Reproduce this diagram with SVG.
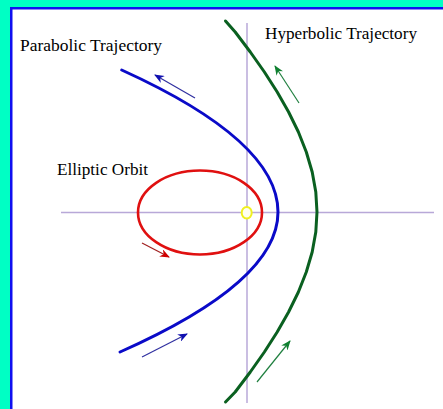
<svg xmlns="http://www.w3.org/2000/svg" width="443" height="409" viewBox="0 0 443 409">
<style>
.lbl{font-family:"Liberation Serif","Times New Roman",serif;font-size:16.5px;fill:#000}
.axis{stroke:#B8A8D8;stroke-width:1.5;fill:none}
.traj{fill:none;stroke-width:3;stroke-linejoin:round;stroke-linecap:round}
.arr{fill:none;stroke-width:1.2}
</style>
<defs>
<marker id="hb" markerWidth="10" markerHeight="8" refX="9" refY="4" orient="auto" markerUnits="userSpaceOnUse"><path d="M0,0 L10,4 L0,8 L3,4 Z" fill="#1010B0"/></marker>
<marker id="hg" markerWidth="10" markerHeight="8" refX="9" refY="4" orient="auto" markerUnits="userSpaceOnUse"><path d="M0,0 L10,4 L0,8 L3,4 Z" fill="#108030"/></marker>
<marker id="hr" markerWidth="10" markerHeight="8" refX="9" refY="4" orient="auto" markerUnits="userSpaceOnUse"><path d="M0,0 L10,4 L0,8 L3,4 Z" fill="#D00000"/></marker>
</defs>
<rect x="0" y="0" width="443" height="409" fill="#00FFC4"/>
<rect x="10" y="7" width="433" height="402" fill="#1010F0"/>
<rect x="12.5" y="9.5" width="430.5" height="399.5" fill="#FFFFFF"/>
<g id="axes">
<line class="axis" x1="61" y1="212.5" x2="434" y2="212.5"/>
<line class="axis" x1="247" y1="23" x2="247" y2="403"/>
</g>
<g id="hyperbola">
<path class="traj" stroke="#0A6020" d="M225.5,21 L235.2,32 L250.3,52 L264.4,72 L277.2,92 L288.6,112 L298.4,132 L306.3,152 L312.2,172 L315.8,192 L317,212 L315.8,232 L312.2,252 L306.3,272 L298.4,292 L288.6,312 L277.2,332 L264.4,352 L250.3,372 L235.2,392 L225.5,402"/>
</g>
<g id="parabola">
<path class="traj" stroke="#0A0AC8" d="M121.7,70 Q278,141 278,212 Q278,282 120,352"/>
</g>
<g id="ellipse-orbit">
<ellipse cx="200" cy="212.5" rx="62" ry="42" fill="none" stroke="#E01010" stroke-width="2.6"/>
</g>
<g id="sun">
<ellipse cx="246.7" cy="212.7" rx="5" ry="5.8" fill="#FFFFF0" stroke="#F0F020" stroke-width="2"/>
</g>
<g id="labels">
<text class="lbl" x="20" y="51" textLength="142" lengthAdjust="spacingAndGlyphs">Parabolic Trajectory</text>
<text class="lbl" x="265" y="39" textLength="152" lengthAdjust="spacingAndGlyphs">Hyperbolic Trajectory</text>
<text class="lbl" x="57" y="175" textLength="91" lengthAdjust="spacingAndGlyphs">Elliptic Orbit</text>
</g>
<g id="connectors">
<line class="arr" stroke="#3030A0" x1="195" y1="98" x2="155" y2="75" marker-end="url(#hb)"/>
<line class="arr" stroke="#3030A0" x1="142" y1="357" x2="187" y2="334" marker-end="url(#hb)"/>
<line class="arr" stroke="#208040" x1="299" y1="103" x2="275" y2="66" marker-end="url(#hg)"/>
<line class="arr" stroke="#208040" x1="257" y1="382" x2="290" y2="341" marker-end="url(#hg)"/>
<line class="arr" stroke="#A02020" x1="142" y1="243" x2="169" y2="257" marker-end="url(#hr)"/>
</g>
</svg>
